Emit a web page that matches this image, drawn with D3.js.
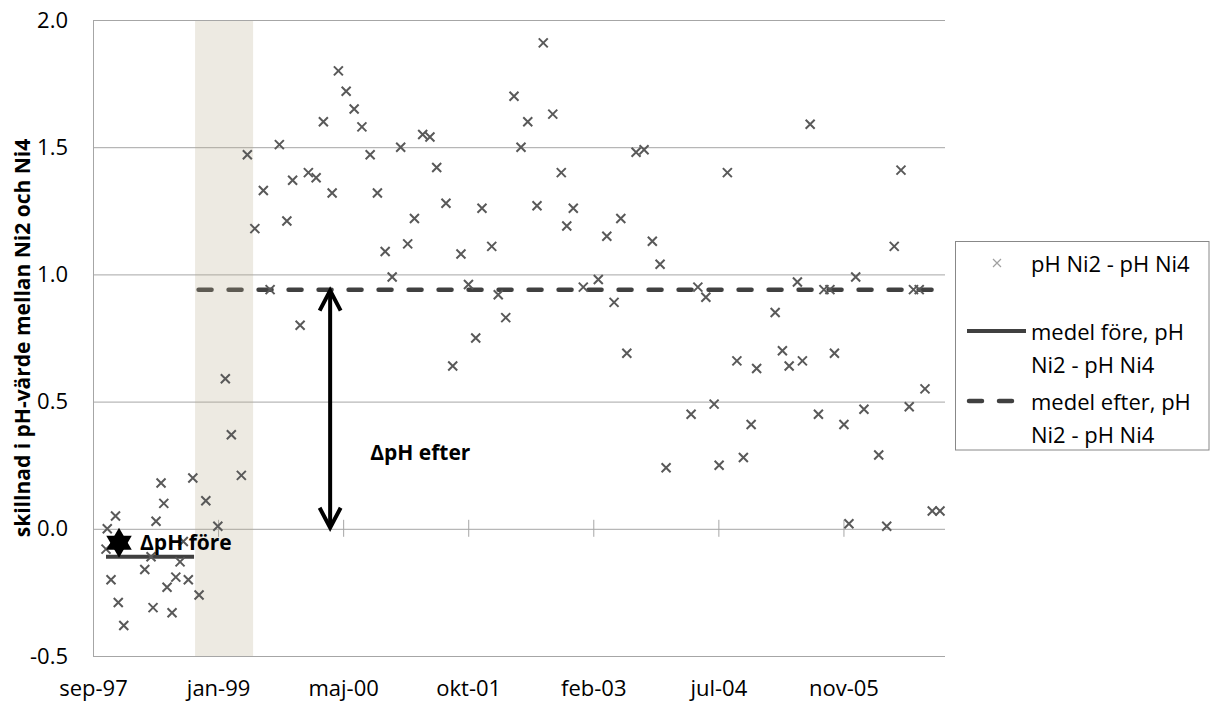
<!DOCTYPE html>
<html>
<head>
<meta charset="utf-8">
<script src="https://cdn.jsdelivr.net/npm/d3@7"></script>
<style>
    body { margin: 0; background: #fff; }
    text { font-family: "Open Sans", sans-serif; }
</style>
</head>
<body>
<div id="my_chart"></div>
<script>
// measured pH difference Ni2 - Ni4
var sampleDates = [
    "1997-10-23", "1997-10-28", "1997-11-12", "1997-11-30", "1997-12-11", "1998-01-02",
    "1998-03-27", "1998-04-21", "1998-04-29", "1998-05-11", "1998-05-31", "1998-06-11",
    "1998-06-24", "1998-07-14", "1998-07-29", "1998-08-15", "1998-08-28", "1998-09-17",
    "1998-10-05", "1998-10-30", "1998-11-26", "1999-01-13", "1999-02-12", "1999-03-08",
    "1999-04-17", "1999-05-11", "1999-06-10", "1999-07-14", "1999-08-10", "1999-09-16",
    "1999-10-16", "1999-11-08", "1999-12-08", "2000-01-10", "2000-02-10", "2000-03-10",
    "2000-04-14", "2000-05-09", "2000-06-09", "2000-07-11", "2000-08-11", "2000-09-13",
    "2000-10-12", "2000-11-12", "2000-12-10", "2001-01-13", "2001-02-10", "2001-03-09",
    "2001-04-11", "2001-05-10", "2001-06-06", "2001-07-13", "2001-08-09", "2001-09-11",
    "2001-10-11", "2001-11-09", "2001-12-04", "2002-01-12", "2002-02-07", "2002-03-09",
    "2002-04-11", "2002-05-09", "2002-06-05", "2002-07-12", "2002-08-06", "2002-09-13",
    "2002-10-17", "2002-11-08", "2002-12-04", "2003-01-13", "2003-03-14", "2003-04-17",
    "2003-05-16", "2003-06-12", "2003-07-06", "2003-08-12", "2003-09-13", "2003-10-16",
    "2003-11-16", "2003-12-10", "2004-03-19", "2004-04-15", "2004-05-17", "2004-06-19",
    "2004-07-09", "2004-08-11", "2004-09-18", "2004-10-14", "2004-11-14", "2004-12-06",
    "2005-02-18", "2005-03-19", "2005-04-15", "2005-05-18", "2005-06-07", "2005-07-08",
    "2005-08-10", "2005-09-01", "2005-09-25", "2005-10-13", "2005-11-20", "2005-12-10",
    "2006-01-06", "2006-02-08", "2006-04-08", "2006-05-10", "2006-06-09", "2006-07-06",
    "2006-08-08", "2006-08-25", "2006-09-17", "2006-10-10", "2006-11-08", "2006-12-09"
];
var sampleValues = [
    -0.08, 0.00, -0.20, 0.05, -0.29, -0.38,
    -0.16, -0.11, -0.31, 0.03, 0.18, 0.10,
    -0.23, -0.33, -0.19, -0.13, -0.05, -0.20,
    0.20, -0.26, 0.11, 0.01, 0.59, 0.37,
    0.21, 1.47, 1.18, 1.33, 0.94, 1.51,
    1.21, 1.37, 0.80, 1.40, 1.38, 1.60,
    1.32, 1.80, 1.72, 1.65, 1.58, 1.47,
    1.32, 1.09, 0.99, 1.50, 1.12, 1.22,
    1.55, 1.54, 1.42, 1.28, 0.64, 1.08,
    0.96, 0.75, 1.26, 1.11, 0.92, 0.83,
    1.70, 1.50, 1.60, 1.27, 1.91, 1.63,
    1.40, 1.19, 1.26, 0.95, 0.98, 1.15,
    0.89, 1.22, 0.69, 1.48, 1.49, 1.13,
    1.04, 0.24, 0.45, 0.95, 0.91, 0.49,
    0.25, 1.40, 0.66, 0.28, 0.41, 0.63,
    0.85, 0.70, 0.64, 0.97, 0.66, 1.59,
    0.45, 0.94, 0.94, 0.69, 0.41, 0.02,
    0.99, 0.47, 0.29, 0.01, 1.11, 1.41,
    0.48, 0.94, 0.94, 0.55, 0.07, 0.07
];

// mean before / after
var meanBeforeValue = -0.11;
var meanBeforeDates = ["1997-10-23", "1998-10-10"];
var meanAfterValue = 0.94;
var meanAfterDates = ["1998-10-20", "2006-12-29"];

// shaded transition period
var bandDates = ["1998-10-14", "1999-06-03"];

// annotations
var arrowDates = ["1997-12-14", "2000-04-06"];
var arrowLow = [-0.11, 0.0];
var arrowHigh = [0.0, 0.94];
var noteTexts = ["\u0394pH före", "\u0394pH efter"];
var noteDates = ["1998-03-08", "2000-09-13"];
var noteValues = [-0.05, 0.30];

// axes
var xDomain = ["1997-09-01", "2006-12-29"];
var xTickDates = ["1997-09-01", "1999-01-14", "2000-05-28", "2001-10-10", "2003-02-22", "2004-07-06", "2005-11-18"];
var xTickLabels = ["sep-97", "jan-99", "maj-00", "okt-01", "feb-03", "jul-04", "nov-05"];
var yTicks = [-0.5, 0.0, 0.5, 1.0, 1.5, 2.0];

var legendLabels = [["pH Ni2 - pH Ni4"], ["medel före, pH", "Ni2 - pH Ni4"], ["medel efter, pH", "Ni2 - pH Ni4"]];

var parse = d3.utcParse("%Y-%m-%d");

var W = 1214, H = 704;
var margin = { top: 20, left: 93 },
    plotW = 852,
    plotH = 636;

var svg = d3.select("#my_chart")
    .append("svg")
    .attr("width", W)
    .attr("height", H);

var x = d3.scaleUtc()
    .domain(xDomain.map(parse))
    .range([margin.left, margin.left + plotW]);

var y = d3.scaleLinear()
    .domain([-0.5, 2.0])
    .range([margin.top + plotH, margin.top]);

var gridColor = "#a6a6a6";

// horizontal gridlines
svg.append("g")
    .attr("transform", "translate(" + margin.left + ",0)")
    .call(d3.axisLeft(y).tickValues(yTicks).tickSize(-plotW).tickFormat(""))
    .call(g => g.select(".domain").remove())
    .call(g => g.selectAll("line").attr("stroke", gridColor));

// y labels + left spine (plain hyphen for negatives, like excel)
var yAxis = svg.append("g")
    .attr("transform", "translate(" + margin.left + ",0)")
    .call(d3.axisLeft(y).tickValues(yTicks).tickSize(0).tickPadding(25)
        .tickFormat(function (d) { return d.toFixed(1); }));
yAxis.select(".domain").attr("stroke", gridColor);
yAxis.selectAll("text")
    .attr("font-size", 22)
    .attr("fill", "#000")
    .style("font-family", "Open Sans");

// tick marks crossing the zero line
svg.append("g")
    .attr("transform", "translate(0," + (y(0) - 9) + ")")
    .call(d3.axisBottom(x).tickValues(xTickDates.map(parse)).tickSize(17).tickFormat(""))
    .call(g => g.select(".domain").remove())
    .call(g => g.selectAll("line").attr("stroke", gridColor));

// x labels at the bottom
svg.append("g")
    .attr("transform", "translate(0," + (margin.top + plotH) + ")")
    .call(d3.axisBottom(x).tickValues(xTickDates.map(parse)).tickSize(0).tickPadding(24)
        .tickFormat(function (d, i) { return xTickLabels[i]; }))
    .call(g => g.select(".domain").remove())
    .call(g => g.selectAll("text")
        .attr("font-size", 22)
        .attr("fill", "#000")
        .style("font-family", "Open Sans"));

// y title
svg.append("text")
    .attr("transform", "translate(22," + (margin.top + plotH / 2) + ") rotate(-90)")
    .attr("text-anchor", "middle")
    .attr("dominant-baseline", "central")
    .attr("font-size", 21)
    .attr("font-weight", "bold")
    .text("skillnad i pH-värde mellan Ni2 och Ni4");

// mean lines
svg.append("line")
    .attr("x1", x(parse(meanBeforeDates[0])))
    .attr("x2", x(parse(meanBeforeDates[1])))
    .attr("y1", y(meanBeforeValue))
    .attr("y2", y(meanBeforeValue))
    .attr("stroke", "#404040")
    .attr("stroke-width", 4);

svg.append("line")
    .attr("x1", x(parse(meanAfterDates[0])) + 2)
    .attr("x2", x(parse(meanAfterDates[1])) - 2)
    .attr("y1", y(meanAfterValue))
    .attr("y2", y(meanAfterValue))
    .attr("stroke", "#404040")
    .attr("stroke-width", 4.5)
    .attr("stroke-linecap", "round")
    .attr("stroke-dasharray", "13 17");

// beige band (semi transparent, on top of the lines)
svg.append("rect")
    .attr("x", x(parse(bandDates[0])))
    .attr("width", x(parse(bandDates[1])) - x(parse(bandDates[0])))
    .attr("y", margin.top + 1)
    .attr("height", plotH - 1)
    .attr("fill", "rgb(183,171,139)")
    .attr("fill-opacity", 0.25);

// x markers
var data = sampleDates.map(function (d, i) { return [parse(d), sampleValues[i]]; });
var cross = "M-4.5,-4.5L4.5,4.5M-4.5,4.5L4.5,-4.5";
svg.append("g")
    .selectAll("path")
    .data(data)
    .enter()
    .append("path")
    .attr("transform", function (d) { return "translate(" + x(d[0]) + "," + y(d[1]) + ")"; })
    .attr("d", cross)
    .attr("stroke", "#595959")
    .attr("stroke-width", 2)
    .attr("fill", "none");

// double arrows - the short one collapses into a solid star
arrowDates.forEach(function (d, i) {
    var ax = x(parse(d)), yt = y(arrowHigh[i]), yb = y(arrowLow[i]);
    var isShort = (yb - yt) < 45;
    var g = svg.append("g")
        .attr("stroke", "#000")
        .attr("stroke-width", 4)
        .attr("fill", isShort ? "#000" : "none")
        .attr("stroke-linejoin", "miter");
    g.append("line").attr("x1", ax).attr("x2", ax).attr("y1", yt + 2).attr("y2", yb - 2);
    if (isShort) {
        g.attr("stroke-width", 2);
        g.append("path").attr("d", "M" + (ax - 11) + "," + (yt + 20) + "L" + ax + "," + (yt + 1) + "L" + (ax + 11) + "," + (yt + 20) + "Z");
        g.append("path").attr("d", "M" + (ax - 11) + "," + (yb - 20) + "L" + ax + "," + (yb - 1) + "L" + (ax + 11) + "," + (yb - 20) + "Z");
    } else {
        g.append("path").attr("d", "M" + (ax - 10.5) + "," + (yt + 21) + "L" + ax + "," + (yt + 1) + "L" + (ax + 10.5) + "," + (yt + 21));
        g.append("path").attr("d", "M" + (ax - 10.5) + "," + (yb - 21) + "L" + ax + "," + (yb - 1) + "L" + (ax + 10.5) + "," + (yb - 21));
    }
});

noteTexts.forEach(function (t, i) {
    svg.append("text")
        .attr("x", x(parse(noteDates[i])))
        .attr("y", y(noteValues[i]))
        .attr("dominant-baseline", "central")
        .attr("font-size", 21)
        .attr("font-weight", "bold")
        .attr("fill", "#000")
        .text(t);
});

// legend
var legend = svg.append("g");
legend.append("rect")
    .attr("x", 955.5)
    .attr("y", 241.5)
    .attr("width", 253.5)
    .attr("height", 208.5)
    .attr("fill", "#fff")
    .attr("stroke", "#888");

legend.append("path")
    .attr("transform", "translate(997,263)")
    .attr("d", "M-4,-4L4,4M-4,4L4,-4")
    .attr("stroke", "#a0a0a0")
    .attr("stroke-width", 1.2);

legend.append("line")
    .attr("x1", 967).attr("x2", 1026)
    .attr("y1", 331).attr("y2", 331)
    .attr("stroke", "#404040")
    .attr("stroke-width", 4);

legend.append("line")
    .attr("x1", 969).attr("x2", 1012)
    .attr("y1", 401).attr("y2", 401)
    .attr("stroke", "#404040")
    .attr("stroke-width", 4.5)
    .attr("stroke-linecap", "round")
    .attr("stroke-dasharray", "13 17");

var legendY = [263, 331, 401];
legendLabels.forEach(function (lines, i) {
    lines.forEach(function (s, j) {
        legend.append("text")
            .attr("x", 1031)
            .attr("y", legendY[i] + j * 32.5)
            .attr("dominant-baseline", "central")
            .attr("font-size", 22)
            .attr("fill", "#000")
            .text(s);
    });
});
</script>
</body>
</html>
